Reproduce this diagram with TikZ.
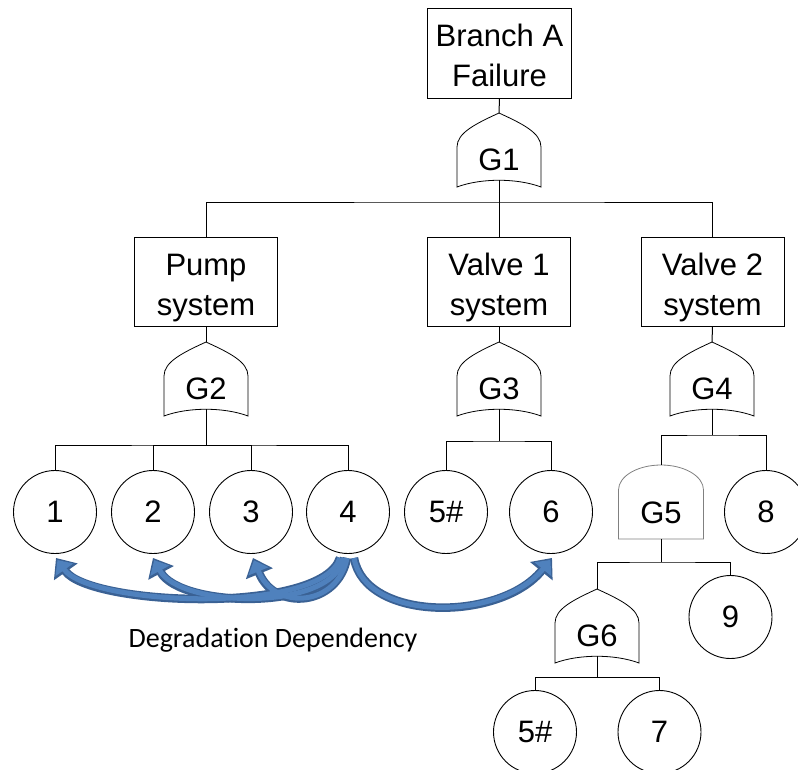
\documentclass[tikz,border=0pt]{standalone}
\usepackage{fontspec}
\setmainfont{Liberation Sans}
\newfontfamily\calibrifont[Ligatures={NoCommon}]{Carlito}
\usetikzlibrary{arrows.meta,calc}
\definecolor{arrowfill}{HTML}{4F81BD}
\definecolor{arrowedge}{HTML}{3A6194}
\definecolor{andgray}{HTML}{808080}
% OR gate: name, centre x, apex y, label
\newcommand\orgate[4]{%
  \draw[gateline] (#2-42,#3+34) .. controls (#2-42,#3+20) and (#2-24,#3+11) .. (#2,#3)
    .. controls (#2+24,#3+11) and (#2+42,#3+20) .. (#2+42,#3+34)
    -- (#2+42,#3+74) .. controls (#2+18,#3+65) and (#2-18,#3+65) .. (#2-42,#3+74) -- cycle;
  \node[gatetext] (#1) at (#2,#3+47) {#4};
  \coordinate (#1-in) at (#2,#3);
  \coordinate (#1-out) at (#2,#3+67);
}
\begin{document}
\begin{tikzpicture}[x=1pt,y=-1pt,
  lbl/.style={font=\fontsize{31}{40}\selectfont},
  sysbox/.style={draw, line width=0.9pt, minimum width=143pt, minimum height=89pt, inner sep=0pt, align=center, lbl, text height=66pt, text depth=0pt},
  evt/.style={draw, circle, line width=0.9pt, minimum size=83pt, inner sep=0pt, lbl},
  gateline/.style={line width=0.8pt},
  gatetext/.style={inner sep=0pt, lbl},
  wire/.style={line width=1pt},
  depouter/.style={draw=arrowedge, line width=8.5pt, -{Triangle[width=28pt,length=17pt]}},
  depinner/.style={draw=arrowfill, line width=5pt, -{Triangle[width=21pt,length=12pt]}, shorten >=2.5pt}
]
\useasboundingbox (0,0) rectangle (798,769);

% boxes
\node[sysbox, minimum width=144pt, minimum height=90pt] (top) at (499.5,53) {Branch A\\Failure};
\node[sysbox] (pump) at (206,282) {Pump\\system};
\node[sysbox] (valve1) at (499,282) {Valve 1\\system};
\node[sysbox] (valve2) at (712.5,282) {Valve 2\\system};

% gates
\orgate{G1}{499}{113}{G1}
\orgate{G2}{206}{342}{G2}
\orgate{G3}{499}{342}{G3}
\orgate{G4}{712}{342}{G4}
\orgate{G6}{597}{589}{G6}
% AND gate G5 (grey)
\draw[gateline, draw=andgray] (618.5,490) arc[start angle=180, end angle=0, x radius=42.5pt, y radius=25pt]
  -- (703.5,539) -- (618.5,539) -- cycle;
\node[gatetext] (G5) at (661,513) {G5};
\coordinate (G5-in) at (661,465);
\coordinate (G5-out) at (661,539);

% basic events
\node[evt] (c1) at (55,512) {1};
\node[evt] (c2) at (153,512) {2};
\node[evt] (c3) at (251,512) {3};
\node[evt] (c4) at (348,512) {4};
\node[evt] (c5a) at (446,512) {5\#};
\node[evt] (c6) at (551,512) {6};
\node[evt] (c8) at (766,512) {8};
\node[evt] (c9) at (730.5,617) {9};
\node[evt] (c5b) at (535,732) {5\#};
\node[evt] (c7) at (659.5,732) {7};

% wiring
\coordinate (b1) at (499,202);
\draw[wire] (top.south) -- (G1-in);
\draw[wire] (G1-out) -- (b1);
\draw[wire] (pump.north) |- (b1) -| (valve2.north);
\draw[wire] (valve1.north) -- (b1);

\coordinate (b2) at (206,445);
\draw[wire] (pump.south) -- (G2-in);
\draw[wire] (G2-out) -- (b2);
\draw[wire] (c1.north) |- (b2) -| (c4.north);
\draw[wire] (c2.north) |- (b2);
\draw[wire] (c3.north) |- (b2);

\coordinate (b3) at (499,441);
\draw[wire] (valve1.south) -- (G3-in);
\draw[wire] (G3-out) -- (b3);
\draw[wire] (c5a.north) |- (b3) -| (c6.north);

\coordinate (b4) at (712,435);
\draw[wire] (valve2.south) -- (G4-in);
\draw[wire] (G4-out) -- (b4);
\draw[wire] (G5-in) |- (b4) -| (c8.north);

\coordinate (b5) at (661,562);
\draw[wire] (G5-out) -- (b5);
\draw[wire] (G6-in) |- (b5) -| (c9.north);

\coordinate (b6) at (597,677);
\draw[wire] (G6-out) -- (b6);
\draw[wire] (c5b.north) |- (b6) -| (c7.north);

% degradation dependency arrows
\foreach \s in {depouter, depinner}{
  \draw[\s] ($(c4.south)+(-8,4)$) .. controls (322,615) and (90,606) .. ($(c1.south)+(1,4)$);
  \draw[\s] ($(c4.south)+(-4,4)$) .. controls (332,612) and (180,608) .. ($(c2.south)+(0,4)$);
  \draw[\s] ($(c4.south)+(-1,4)$) .. controls (338,606) and (275,612) .. ($(c3.south)+(2,4)$);
  \draw[\s] ($(c4.south)+(6,4)$) .. controls (365,622) and (500,622) .. ($(c6.south)+(1,4)$);
}

\node[font=\calibrifont\fontsize{28}{33}\selectfont, inner sep=0pt] (deplabel) at (273,640) {Degradation Dependency};
\end{tikzpicture}
\end{document}
